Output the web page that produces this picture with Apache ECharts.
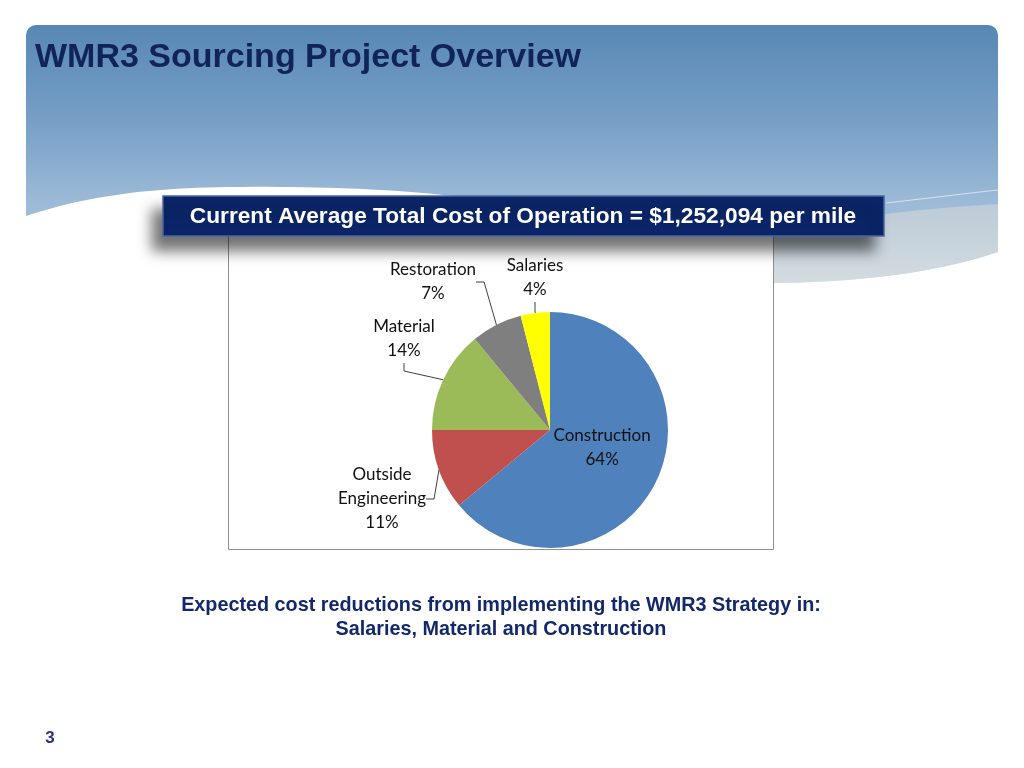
<!DOCTYPE html>
<html>
<head>
<meta charset="utf-8">
<script src="https://cdn.jsdelivr.net/npm/echarts@6/dist/echarts.min.js"></script>
<style>
  html, body { margin: 0; padding: 0; background: #ffffff; }
  #chart { width: 1024px; height: 768px; }
</style>
</head>
<body>
<div id="chart"></div>
<script>
// ---- data ----
const categories = ['Construction', 'Outside Engineering', 'Material', 'Restoration', 'Salaries'];
const shares = [64, 11, 14, 7, 4];
const sliceColors = ['#4F81BD', '#C0504D', '#9BBB59', '#7F7F7F', '#FFFF00'];
const titleText = 'WMR3 Sourcing Project Overview';
const bannerText = 'Current Average Total Cost of Operation = $1,252,094 per mile';
const noteLines = ['Expected cost reductions from implementing the WMR3 Strategy in:', 'Salaries, Material and Construction'];
const pageNumber = '3';

// label anchor spots (layout only) for outside labels, by category index
const labelSpots = { 1: [382, 499], 2: [404, 339], 3: [433, 282], 4: [535, 278] };

// decorative background helper: sample a chain of cubic bezier segments
function bezierPoints(start, segs, steps) {
  const pts = [start.slice()];
  let p0 = start;
  segs.forEach(function (s) {
    if (s.length === 2) { pts.push(s.slice()); p0 = s; return; }
    const c1 = s[0], c2 = s[1], p3 = s[2];
    for (let i = 1; i <= steps; i++) {
      const t = i / steps, u = 1 - t;
      pts.push([
        u * u * u * p0[0] + 3 * u * u * t * c1[0] + 3 * u * t * t * c2[0] + t * t * t * p3[0],
        u * u * u * p0[1] + 3 * u * u * t * c1[1] + 3 * u * t * t * c2[1] + t * t * t * p3[1]
      ]);
    }
    p0 = p3;
  });
  return pts;
}

const whiteWave = bezierPoints([26, 216], [
  [[80, 198], [140, 188], [230, 187]],
  [[330, 186], [420, 190], [480, 200]],
  [774, 283],
  [[880, 282], [950, 268], [998, 252]],
  [1024, 252], [1024, 768], [0, 768], [0, 216]
], 24);
const band = bezierPoints([600, 300], [
  [[700, 240], [820, 215], [998, 204]],
  [998, 252],
  [[950, 268], [880, 282], [774, 283]]
], 24);
const streak = bezierPoints([886, 203], [[[930, 198], [970, 193], [998, 190]]], 16);

const chart = echarts.init(document.getElementById('chart'), null, { renderer: 'canvas' });

const pieData = categories.map((name, i) => {
  const item = { name: name, value: shares[i], itemStyle: { color: sliceColors[i] } };
  if (i === 0) {
    item.label = { position: 'inside' };
    item.labelLine = { show: false };
  }
  return item;
});

const option = {
  animation: false,
  backgroundColor: '#ffffff',
  graphic: {
    elements: [
      { type: 'rect', z: 0, shape: { x: 26, y: 25, width: 972, height: 320, r: 10 },
        style: { fill: {
          type: 'linear', x: 0, y: 0, x2: 0, y2: 1,
          colorStops: [
            { offset: 0, color: '#5887b5' },
            { offset: 0.3, color: '#779fc6' },
            { offset: 0.55, color: '#9cbad7' },
            { offset: 1, color: '#b4cbe0' }
          ] } } },
      { type: 'polygon', z: 1, shape: { points: band },
        style: { fill: {
          type: 'linear', x: 0, y: 0, x2: 0, y2: 1,
          colorStops: [
            { offset: 0, color: '#bccbd7' },
            { offset: 1, color: '#d8dfe1' }
          ] } } },
      { type: 'polyline', z: 1, shape: { points: streak },
        style: { fill: null, stroke: 'rgba(255,255,255,0.6)', lineWidth: 1 } },
      { type: 'polygon', z: 2, shape: { points: whiteWave }, style: { fill: '#ffffff' } },
      { type: 'rect', z: 3, shape: { x: 228.5, y: 225.5, width: 545, height: 324 },
        style: { fill: '#ffffff', stroke: '#8e8e8e', lineWidth: 1 } },
      { type: 'rect', z: 4, shape: { x: 163, y: 196, width: 721, height: 40 },
        style: { fill: '#0b2568', stroke: '#4a67a3', lineWidth: 1.5,
          shadowBlur: 14, shadowColor: 'rgba(0,0,0,0.55)', shadowOffsetX: -10, shadowOffsetY: 14 } },
      { type: 'text', z: 5, style: { x: 523, y: 217, text: bannerText, fill: '#ffffff',
          font: 'bold 22.7px "Liberation Sans", Arial, sans-serif', align: 'center', verticalAlign: 'middle' } },
      { type: 'text', z: 5, style: { x: 35, y: 58, text: titleText, fill: '#10235a',
          font: 'bold 34px "Liberation Sans", Arial, sans-serif', align: 'left', verticalAlign: 'middle' } },
      { type: 'text', z: 5, style: { x: 501, y: 606, text: noteLines[0], fill: '#13286b',
          font: 'bold 19.8px "Liberation Sans", Arial, sans-serif', align: 'center', verticalAlign: 'middle' } },
      { type: 'text', z: 5, style: { x: 501, y: 630, text: noteLines[1], fill: '#13286b',
          font: 'bold 19.8px "Liberation Sans", Arial, sans-serif', align: 'center', verticalAlign: 'middle' } },
      { type: 'text', z: 5, style: { x: 50, y: 738, text: pageNumber, fill: '#2e2e8c',
          font: 'bold 17px "Liberation Sans", Arial, sans-serif', align: 'center', verticalAlign: 'middle',
          shadowBlur: 1, shadowColor: 'rgba(0,0,0,0.5)', shadowOffsetX: 1, shadowOffsetY: 1 } }
    ]
  },
  series: [{
    type: 'pie',
    z: 10,
    center: [550, 430],
    radius: 118,
    startAngle: 90,
    clockwise: true,
    percentPrecision: 0,
    data: pieData,
    itemStyle: { borderWidth: 0 },
    label: {
      show: true,
      position: 'outside',
      color: '#111111',
      fontFamily: 'Lato, "Open Sans", sans-serif',
      fontSize: 17,
      lineHeight: 24,
      align: 'center',
      formatter: function (p) {
        const nm = p.name === 'Outside Engineering' ? 'Outside\nEngineering' : p.name;
        return nm + '\n' + p.percent + '%';
      }
    },
    labelLine: { show: true, length: 10, length2: 8, lineStyle: { color: '#404040', width: 1 } },
    labelLayout: function (params) {
      if (params.dataIndex === 0) return { dx: -4, dy: -9 };
      const s = labelSpots[params.dataIndex];
      if (!s) return {};
      return { x: s[0], y: s[1], align: 'center', verticalAlign: 'middle' };
    },
    emphasis: { disabled: true }
  }]
};

chart.setOption(option);
</script>
</body>
</html>
